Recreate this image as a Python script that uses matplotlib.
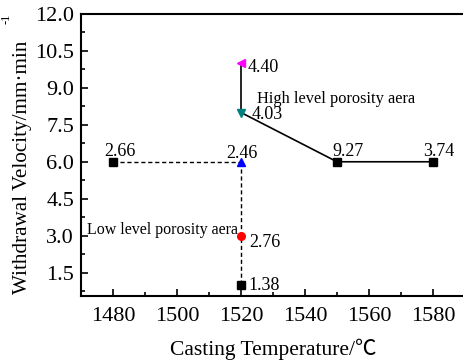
import matplotlib.pyplot as plt
from matplotlib.ticker import MultipleLocator

plt.rcParams['font.family'] = ['Liberation Serif', 'Noto Sans CJK SC', 'DejaVu Serif']

# points: casting temperature, withdrawal velocity, value label
temps = [1480, 1520, 1520, 1520, 1550, 1580, 1520, 1520]
velocities = [6.0, 6.0, 10.0, 8.0, 6.0, 6.0, 3.0, 1.0]
values = ['2.66', '2.46', '4.40', '4.03', '9.27', '3.74', '2.76', '1.38']
markers = ['s', '^', '<', 'v', 's', 's', 'o', 's']
colors = ['black', 'blue', '#ff00ff', '#008080', 'black', 'black', 'red', 'black']

# connecting lines
solid_t = [1520, 1520, 1550, 1580]
solid_v = [10.0, 8.0, 6.0, 6.0]
dash_h_t = [1480, 1520]
dash_h_v = [6.0, 6.0]
dash_v_t = [1520, 1520]
dash_v_v = [6.0, 1.0]

fig = plt.figure(figsize=[4.63, 3.62], dpi=100)
ax = fig.add_axes([81 / 463, 66 / 362, 384 / 463, 282 / 362])

ax.plot(solid_t, solid_v, color='black', lw=1.2, zorder=1)
ax.plot(dash_h_t, dash_h_v, color='black', lw=1.0, ls=(0, (3, 2)), zorder=1)
ax.plot(dash_v_t, dash_v_v, color='black', lw=1.0, ls=(0, (3, 2)), zorder=1)

for t, v, m, c in zip(temps, velocities, markers, colors):
    ax.plot(t, v, marker=m, color=c, ms=5.5, ls='none', zorder=3)

# value labels (offset in points, vertical alignment)
offsets = [(-6.5, 4.3, 'baseline'), (-10.3, 3.0, 'baseline'),
           (4.8, -2.9, 'center'), (7.7, -1.2, 'center'),
           (-3.4, 4.3, 'baseline'), (-7.0, 4.3, 'baseline'),
           (6.0, -4.8, 'center'), (5.0, -0.7, 'center')]
for t, v, s, (dx, dy, va) in zip(temps, velocities, values, offsets):
    ax.annotate(s, (t, v), xytext=(dx, dy), textcoords='offset points',
                ha='left', va=va, fontsize=13)

ax.text(1525.1, 8.55, 'High level porosity aera', fontsize=11.8, ha='left', va='center')
ax.text(1471.9, 3.22, 'Low level porosity aera', fontsize=11.5, ha='left', va='center')

ax.set_xlim(1470, 1590)
ax.set_ylim(0.55, 12.0)
ax.set_xticks([1480, 1500, 1520, 1540, 1560, 1580])
ax.set_yticks([1.5, 3.0, 4.5, 6.0, 7.5, 9.0, 10.5, 12.0])
ax.xaxis.set_minor_locator(MultipleLocator(10))
ax.yaxis.set_minor_locator(MultipleLocator(0.75))
ax.tick_params(which='both', direction='in', labelsize=16, width=1.2)
ax.tick_params(which='major', length=5)
ax.tick_params(which='minor', length=3)
ax.tick_params(axis='x', pad=8)
ax.tick_params(axis='y', pad=5)
for sp in ax.spines.values():
    sp.set_linewidth(1.5)

ax.set_xlabel('Casting Temperature/℃', fontsize=15.5, labelpad=9)
ax.set_ylabel('Withdrawal Velocity/mm·min', fontsize=15.2, labelpad=2)
ax.yaxis.label.set_y(0.455)
fig.text(7 / 463, 1 - 19 / 362, '-1', rotation=90, fontsize=9, ha='center', va='center')

fig.savefig('out.png', dpi=100)
